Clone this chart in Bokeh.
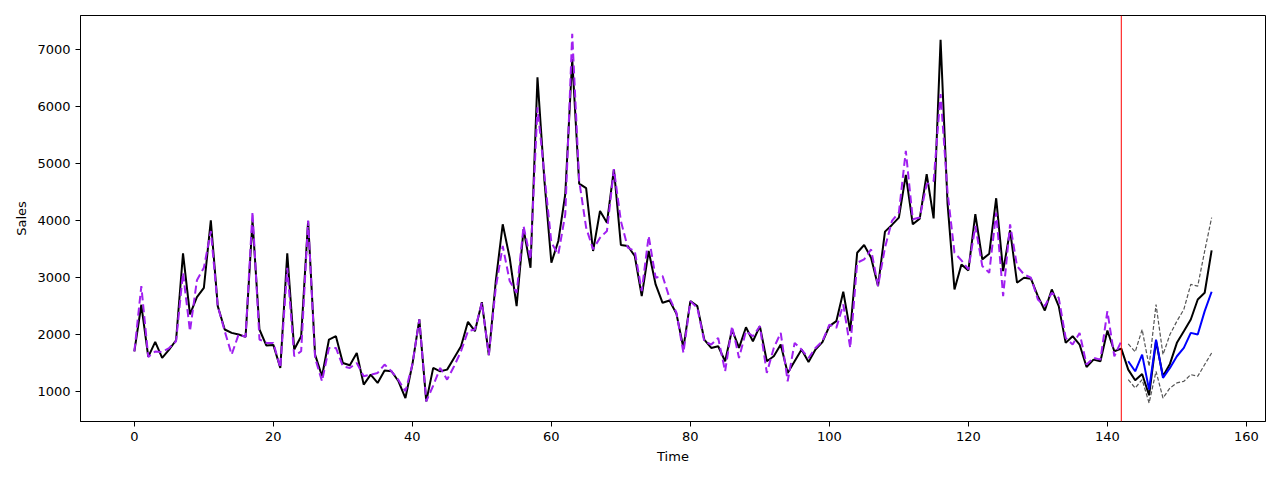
from bokeh.plotting import figure
from bokeh.models import Range1d, SingleIntervalTicker, Span
from bokeh.embed import file_html
from bokeh.resources import INLINE

actual = [1700, 2520, 1604, 1868, 1587, 1733, 1897, 3423, 2350, 2654,
          2818, 4004, 2496, 2086, 2026, 1997, 1956, 4000, 2086, 1804,
          1815, 1410, 3423, 1733, 1968, 3992, 1645, 1264, 1909, 1968,
          1498, 1458, 1674, 1117, 1293, 1147, 1364, 1352, 1176, 882,
          1470, 2262, 824, 1411, 1352, 1381, 1587, 1792, 2220, 2056,
          2566, 1634, 2936, 3933, 3346, 2496, 3850, 3170, 6514, 4700,
          3258, 3640, 4462, 6837, 4648, 4567, 3464, 4168, 3962, 4901,
          3570, 3552, 3376, 2672, 3464, 2877, 2555, 2596, 2360, 1762,
          2584, 2496, 1909, 1762, 1792, 1528, 2085, 1762, 2126, 1880,
          2144, 1528, 1616, 1821, 1323, 1528, 1733, 1516, 1733, 1865,
          2144, 2232, 2748, 2056, 3434, 3570, 3346, 2848, 3804, 3922,
          4051, 4802, 3933, 4033, 4814, 4036, 7172, 4300, 2789, 3229,
          3124, 4110, 3317, 3416, 4391, 3112, 3828, 2907, 2995, 2977,
          2672, 2420, 2789, 2496, 1851, 1968, 1821, 1428, 1557, 1528,
          2068, 1704, 1750, 1381, 1194, 1305, 930, 1880, 1264, 1481,
          1851, 2056, 2262, 2613, 2731, 3476]

fitted = [1700, 2848, 1604, 1700, 1690, 1760, 1880, 3082, 2056, 2950,
          3170, 3816, 2496, 2056, 1645, 2000, 1956, 4154, 1910, 1850,
          1850, 1411, 3170, 1616, 1704, 4000, 1586, 1176, 1762, 1762,
          1440, 1411, 1498, 1264, 1293, 1323, 1470, 1352, 1200, 1000,
          1470, 2262, 824, 1100, 1411, 1205, 1440, 1704, 2056, 2086,
          2555, 1634, 2818, 3552, 2936, 2731, 3900, 3317, 5987, 4800,
          3610, 3405, 4110, 7277, 4700, 3875, 3493, 3698, 3816, 4901,
          3992, 3522, 3464, 2760, 3728, 2995, 3024, 2640, 2380, 1674,
          2584, 2467, 1880, 1821, 1938, 1352, 2144, 1586, 2056, 1968,
          2144, 1323, 1762, 2027, 1176, 1850, 1733, 1586, 1762, 1880,
          2173, 2114, 2525, 1762, 3258, 3317, 3493, 2848, 3522, 3992,
          4139, 5224, 4022, 4051, 4637, 4696, 6222, 4500, 3434, 3300,
          3140, 3904, 3200, 3082, 4139, 2672, 3933, 3200, 3053, 2995,
          2613, 2496, 2731, 2642, 1938, 1821, 2026, 1470, 1587, 1557,
          2408, 1616, 1880]

forecast_start = 143
forecast_mean = [1528, 1352, 1645, 1029, 1909, 1235, 1411, 1616, 1762, 2026, 1997, 2408, 2748]
forecast_upper = [1833, 1692, 2085, 1440, 2525, 1645, 1997, 2232, 2438, 2877, 2848, 3464, 4051]
forecast_lower = [1205, 1059, 1205, 795, 1350, 882, 1059, 1147, 1176, 1293, 1264, 1470, 1674]
split_time = 142

t_actual = list(range(len(actual)))
t_fitted = list(range(len(fitted)))
t_fc = list(range(forecast_start, forecast_start + len(forecast_mean)))

FONT = "DejaVu Sans"

p = figure(width=1272, height=472, output_backend="svg", toolbar_location=None,
           x_range=Range1d(-7.75, 162.75), y_range=Range1d(470, 7600),
           min_border_left=80, min_border_right=7, min_border_top=15, min_border_bottom=51)
p.background_fill_color = "white"
p.border_fill_color = "white"
p.outline_line_color = "black"
p.outline_line_width = 1
p.grid.visible = False

p.line(t_actual, actual, line_color="black", line_width=2)
p.line(t_fitted, fitted, line_color="#a020f0", line_width=2, line_dash="8 4")
p.line(t_fc, forecast_upper, line_color="#555555", line_width=1.2, line_dash="4 2")
p.line(t_fc, forecast_lower, line_color="#555555", line_width=1.2, line_dash="4 2")
p.line(t_fc, forecast_mean, line_color="blue", line_width=2)

p.add_layout(Span(location=split_time, dimension="height", line_color="red", line_width=1))

p.xaxis.ticker = SingleIntervalTicker(interval=20)
p.yaxis.ticker = SingleIntervalTicker(interval=1000)
for ax in (p.xaxis, p.yaxis):
    ax.minor_tick_line_color = None
    ax.major_tick_out = 5
    ax.major_tick_in = 0
    ax.major_label_text_font = FONT
    ax.major_label_text_font_size = "13px"
    ax.major_label_text_color = "black"
    ax.axis_label_text_font = FONT
    ax.axis_label_text_font_size = "13px"
    ax.axis_label_text_font_style = "normal"
    ax.axis_label_text_color = "black"
    ax.axis_line_color = "black"
    ax.major_tick_line_color = "black"
p.xaxis.axis_label = "Time"
p.yaxis.axis_label = "Sales"
p.yaxis.major_label_orientation = "horizontal"

open("out.html", "w").write(file_html(p, INLINE))
